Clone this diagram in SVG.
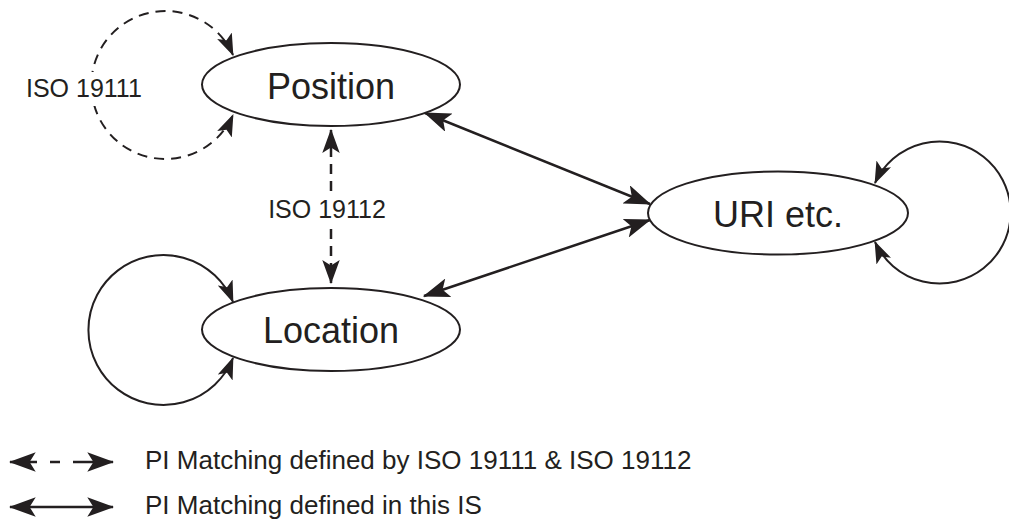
<svg xmlns="http://www.w3.org/2000/svg" width="1009" height="519" viewBox="0 0 1009 519">
<defs>
<marker id="ah" viewBox="0 0 22 16" refX="21" refY="8" markerWidth="27" markerHeight="19.6" markerUnits="userSpaceOnUse" orient="auto-start-reverse">
<path d="M0,0 L22,8 L0,16 L5,8 Z" fill="#231f20"/>
</marker>
<marker id="ahm" viewBox="0 0 22 16" refX="21" refY="8" markerWidth="24" markerHeight="17.5" markerUnits="userSpaceOnUse" orient="auto-start-reverse">
<path d="M0,0 L22,8 L0,16 L5,8 Z" fill="#231f20"/>
</marker>
<marker id="ahs" viewBox="0 0 22 16" refX="21" refY="8" markerWidth="22" markerHeight="16" markerUnits="userSpaceOnUse" orient="auto-start-reverse">
<path d="M0,0 L22,8 L0,16 L5,8 Z" fill="#231f20"/>
</marker>
<marker id="ahl" viewBox="0 0 22 16" refX="21" refY="8" markerWidth="27" markerHeight="19.6" markerUnits="userSpaceOnUse" orient="auto-start-reverse">
<path d="M0,0 L22,8 L0,16 L5,8 Z" fill="#231f20"/>
</marker>
</defs>
<style>
.node ellipse{fill:#fff;stroke:#231f20;stroke-width:2}
.big{font-family:"Liberation Sans",Arial,sans-serif;font-size:36px;fill:#231f20;text-anchor:middle}
.lbl{font-family:"Liberation Sans",Arial,sans-serif;font-size:25px;fill:#231f20}
.leg{font-family:"Liberation Sans",Arial,sans-serif;font-size:26px;fill:#231f20}
.c{fill:none;stroke:#231f20;stroke-width:2.5}
.loop{fill:none;stroke:#231f20;stroke-width:2}
.dash{stroke-dasharray:10 7}
</style>
<rect width="1009" height="519" fill="#fff"/>
<g id="connectors">
<path class="loop dash" d="M233,55 A74,74 0 1 0 233,115" marker-start="url(#ahs)" marker-end="url(#ahs)"/>
<path class="loop" d="M233,302 A75,75 0 1 0 233,358" marker-start="url(#ahs)" marker-end="url(#ahs)"/>
<path class="loop" d="M875,183 A71,71 0 1 1 875,242" marker-start="url(#ahs)" marker-end="url(#ahs)"/>
<path class="c" d="M425,113 L650,204" marker-start="url(#ah)" marker-end="url(#ah)"/>
<path class="c" d="M424,296 L650,220" marker-start="url(#ah)" marker-end="url(#ah)"/>
<path class="c dash" d="M331,130 V192 M331,229 V283" marker-start="url(#ahm)" marker-end="url(#ahm)"/>
<rect x="22" y="72" width="128" height="34" fill="#fff"/>
<text class="lbl" x="26" y="97">ISO 19111</text>
<text class="lbl" x="327" y="218" text-anchor="middle">ISO 19112</text>
</g>
<g id="position" class="node">
<ellipse cx="331" cy="84.5" rx="129" ry="41.5"/>
<text class="big" x="331" y="99">Position</text>
</g>
<g id="location" class="node">
<ellipse cx="331" cy="329.5" rx="129" ry="41.5"/>
<text class="big" x="331" y="343">Location</text>
</g>
<g id="uri" class="node">
<ellipse cx="778" cy="213" rx="130" ry="41.5"/>
<text class="big" x="778" y="227">URI etc.</text>
</g>
<g id="legend">
<path class="c" d="M10,462 H113" marker-start="url(#ahl)" marker-end="url(#ahl)" stroke-dasharray="27 13 10 13 50"/>
<path class="c" d="M10,507 H113" marker-start="url(#ahl)" marker-end="url(#ahl)"/>
<text class="leg" x="145" y="469">PI Matching defined by ISO 19111 &amp; ISO 19112</text>
<text class="leg" x="145" y="514">PI Matching defined in this IS</text>
</g>
</svg>
